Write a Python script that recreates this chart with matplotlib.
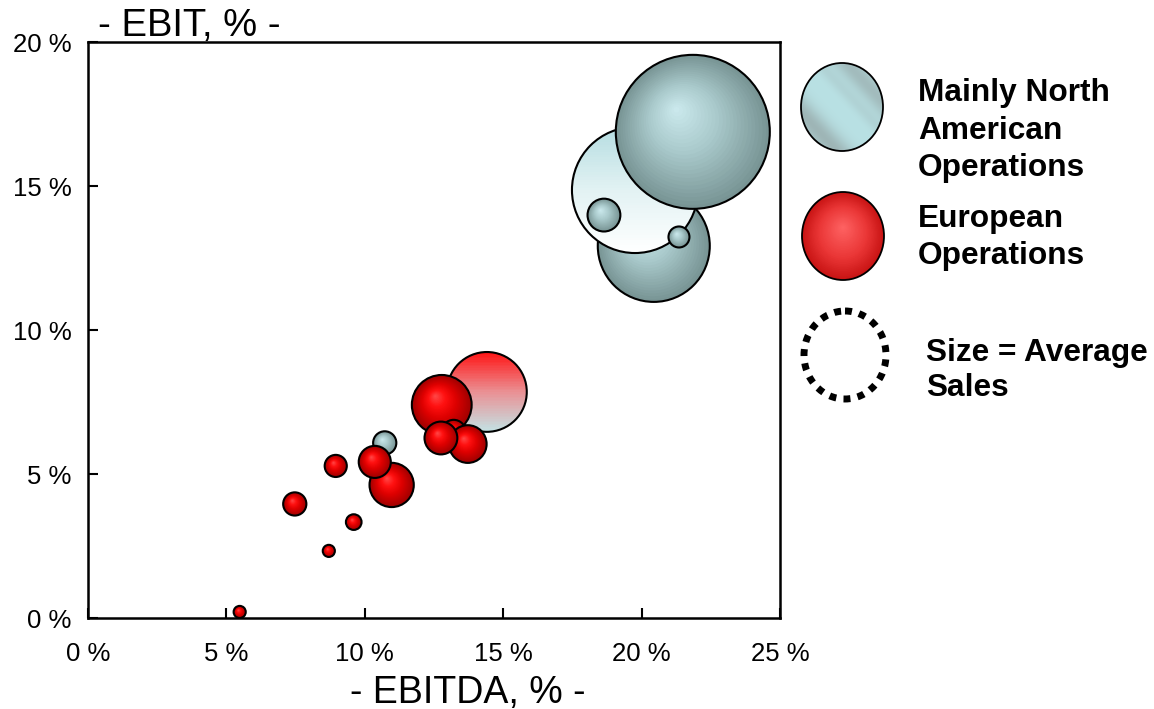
import numpy as np
import matplotlib
matplotlib.use('Agg')
import matplotlib.pyplot as plt
from matplotlib.patches import Circle, Ellipse, Rectangle
from matplotlib.transforms import Affine2D, ScaledTranslation
from matplotlib.colors import to_rgb

plt.rcParams['font.family'] = ['Liberation Sans', 'DejaVu Sans']

# EBITDA %, EBIT %, average sales (bubble area)
na_x = [20.44, 18.64, 21.35, 21.85, 10.72]
na_y = [12.92, 13.99, 13.23, 16.88, 6.08]
na_sales = [256, 22, 9, 484, 11]

# group averages (NA average, European average)
avg_x = [19.76, 14.41]
avg_y = [14.86, 7.85]
avg_sales = [324, 130]

eu_x = [12.78, 13.21, 13.72, 12.75, 10.97, 10.36, 8.95, 7.47, 9.60, 8.70, 5.48]
eu_y = [7.40, 6.46, 6.04, 6.25, 4.62, 5.42, 5.28, 3.96, 3.33, 2.33, 0.21]
eu_sales = [73, 12, 29, 22, 40, 21, 10, 11, 5, 3, 3]

x_ticks = [0, 5, 10, 15, 20, 25]
y_ticks = [0, 5, 10, 15, 20]

W, H = 1154, 709
PX_PER_SALES = 3.5   # radius in px = 3.5 * sqrt(sales)

NA_STOPS = [(0.0, '#cdebef'), (0.45, '#aacacc'), (1.0, '#789494')]
EU_STOPS = [(0.0, '#ff4c4c'), (0.3, '#ff1010'), (0.6, '#dc0000'), (1.0, '#a00000')]
AVG_STOPS = [
    [(0.0, '#ffffff'), (0.5, '#e2f2f3'), (1.0, '#b5dde1')],
    [(0.0, '#c3e3e5'), (0.5, '#ea9094'), (1.0, '#ff1414')],
]


def blend(stops, t):
    for (t0, c0), (t1, c1) in zip(stops[:-1], stops[1:]):
        if t <= t1:
            f = (t - t0) / (t1 - t0)
            a, b = np.array(to_rgb(c0)), np.array(to_rgb(c1))
            return tuple(a + (b - a) * f)
    return to_rgb(stops[-1][1])


def px_trans(ax, x, y):
    # pixel units centred on a data point
    return Affine2D() + ScaledTranslation(x, y, ax.transData)


def radial_bubble(ax, x, y, sales, stops, n=26):
    r = PX_PER_SALES * np.sqrt(sales)
    tr = px_trans(ax, x, y)
    ox, oy = -0.22 * r, 0.30 * r
    for k in range(n):
        t = 1 - k / n
        ax.add_patch(Circle((ox * (1 - t), oy * (1 - t)), r * t, transform=tr,
                            facecolor=blend(stops, t), edgecolor='none', zorder=3))
    ax.add_patch(Circle((0, 0), r, transform=tr, fill=False,
                        edgecolor='black', lw=1.5, zorder=3))


def linear_bubble(ax, x, y, sales, stops, n=50):
    r = PX_PER_SALES * np.sqrt(sales)
    tr = px_trans(ax, x, y)
    edge = Circle((0, 0), r, transform=tr, fill=False, edgecolor='black', lw=1.5, zorder=3)
    for k in range(n):
        y0 = -r + 2 * r * k / n
        strip = Rectangle((-r, y0), 2 * r, 2 * r / n + 0.6, transform=tr,
                          facecolor=blend(stops, (k + 0.5) / n), edgecolor='none', zorder=3)
        ax.add_patch(strip)
        strip.set_clip_path(edge)
    ax.add_patch(edge)


fig = plt.figure(figsize=(W / 100, H / 100), dpi=100)
ax = fig.add_axes([88 / W, 1 - 618 / H, (780 - 88) / W, (618 - 42) / H])
ax.set_xlim(0, 25)
ax.set_ylim(0, 20)

# NA bubble that sits behind the NA average
radial_bubble(ax, na_x[0], na_y[0], na_sales[0], NA_STOPS)
for x, y, s, st in zip(avg_x, avg_y, avg_sales, AVG_STOPS):
    linear_bubble(ax, x, y, s, st)
for x, y, s in zip(na_x[1:], na_y[1:], na_sales[1:]):
    radial_bubble(ax, x, y, s, NA_STOPS)
for x, y, s in zip(eu_x, eu_y, eu_sales):
    radial_bubble(ax, x, y, s, EU_STOPS)

ax.set_xticks(x_ticks)
ax.set_yticks(y_ticks)
ax.set_xticklabels([f'{v} %' for v in x_ticks])
ax.set_yticklabels([f'{v} %' for v in y_ticks])
ax.tick_params(direction='in', length=7, width=1.5, labelsize=18.5, colors='black')
ax.tick_params(axis='x', pad=17)
ax.tick_params(axis='y', pad=12)
for sp in ax.spines.values():
    sp.set_linewidth(1.8)

# overlay in pixel coordinates for axis titles and the key
lg = fig.add_axes([0, 0, 1, 1])
lg.set_xlim(0, W)
lg.set_ylim(H, 0)
lg.axis('off')

lg.text(189, 36, '- EBIT, % -', fontsize=27.5, ha='center', va='baseline')
lg.text(468, 703, '- EBITDA, % -', fontsize=27, ha='center', va='baseline')

# key: North American swatch with diagonal sheen
cx, cy, ew, eh = 842, 107, 82, 88
na_key = Ellipse((cx, cy), ew, eh, facecolor='none', edgecolor='black', lw=1.3, zorder=5)
g = np.linspace(-1, 1, 160)
X, Y = np.meshgrid(g, -g)
s = (X + Y) / np.sqrt(2)
w = (0.7 * np.exp(-((s + 0.8) / 0.3) ** 2) + 0.6 * np.exp(-((s - 0.8) / 0.28) ** 2)
     + 0.2 * np.exp(-((s - 0.3) / 0.15) ** 2))
w = np.clip(w, 0, 1)[..., None]
light, grey = np.array(to_rgb('#b9e1e4')), np.array(to_rgb('#93a3a3'))
img = light * (1 - w) + grey * w
im = lg.imshow(img, extent=(cx - ew / 2, cx + ew / 2, cy + eh / 2, cy - eh / 2),
               origin='upper', interpolation='bilinear', aspect='auto', zorder=4)
lg.add_patch(na_key)
im.set_clip_path(na_key)

# key: European swatch
cx, cy = 843, 236
key_stops = [(0.0, '#ff6464'), (0.6, '#ea3636'), (1.0, '#c81414')]
n = 30
for k in range(n):
    t = 1 - k / n
    lg.add_patch(Ellipse((cx, cy - 0.1 * eh * (1 - t)), ew * t, eh * t,
                         facecolor=blend(key_stops, t), edgecolor='none', zorder=4))
lg.add_patch(Ellipse((cx, cy), ew, eh, facecolor='none', edgecolor='black', lw=1.3, zorder=5))

# key: bubble size
lg.add_patch(Ellipse((845, 355), 82, 88, facecolor='none', edgecolor='black',
                     lw=5, linestyle=(0, (1, 1.05)), zorder=5))

key_lines = [
    (918, 101, 'Mainly North'), (918, 139, 'American'), (918, 176, 'Operations'),
    (918, 227, 'European'), (918, 264, 'Operations'),
    (926, 361, 'Size = Average'), (926, 396, 'Sales'),
]
for x, y, t in key_lines:
    lg.text(x, y, t, fontsize=22.8, fontweight='bold', ha='left', va='baseline')

fig.savefig('out.png', dpi=100)
